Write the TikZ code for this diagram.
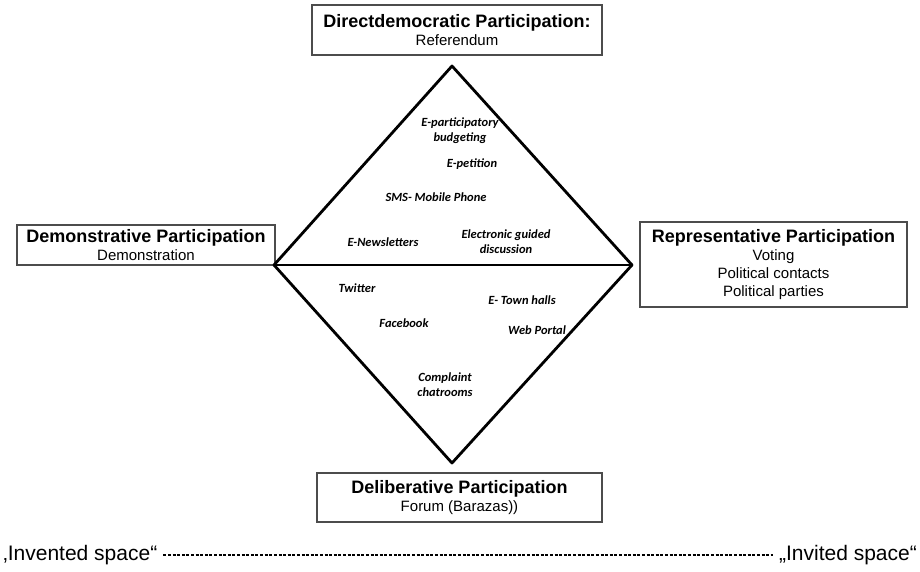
\documentclass[tikz,border=0pt]{standalone}
\usepackage{fontspec}
\setmainfont{Liberation Sans}
\newfontfamily\carlito{Carlito}
\begin{document}
\begin{tikzpicture}[x=1pt,y=-1pt,
  partbox/.style={draw=black!70,line width=1.3pt,align=center,inner sep=0pt,
    font=\fontsize{15}{18}\selectfont},
  dia/.style={line width=2.8pt,line join=round,line cap=round},
  item/.style={font=\carlito\bfseries\itshape\fontsize{12.5}{15}\selectfont,align=center,inner sep=0pt},
  endlbl/.style={font=\fontsize{21}{23}\selectfont,inner sep=0pt}]
\useasboundingbox (0,0) rectangle (920,571);
% boxes
\node[partbox,minimum width=290pt,minimum height=50pt] (top) at (457,30)
  {{\bfseries\fontsize{18}{18}\selectfont Directdemocratic Participation:}\\Referendum};
\node[partbox,minimum width=258pt,minimum height=40pt] (left) at (146,245)
  {{\bfseries\fontsize{18}{18}\selectfont Demonstrative Participation}\\Demonstration};
\node[partbox,minimum width=267pt,minimum height=85pt] (right) at (773.5,264.5)
  {{\bfseries\fontsize{18}{18}\selectfont Representative Participation}\\Voting\\Political contacts\\Political parties};
\node[partbox,minimum width=285pt,minimum height=49pt] (bottom) at (459.5,497.5)
  {{\bfseries\fontsize{18}{18}\selectfont Deliberative Participation}\\Forum (Barazas))};
% diamond
\coordinate (dT) at (452,66);
\coordinate (dL) at (274,265);
\coordinate (dR) at (632,265);
\coordinate (dB) at (452,463);
\draw[dia] (dT) -- (dR) -- (dB) -- (dL) -- cycle;
\draw[dia] (dL) -- (dR);
% items
\node[item] (i1) at (460,131) {E-participatory\\budgeting};
\node[item] (i2) at (472,164) {E-petition};
\node[item] (i3) at (436,197) {SMS- Mobile Phone};
\node[item] (i4) at (383,242) {E-Newsletters};
\node[item] (i5) at (506,242) {Electronic guided\\discussion};
\node[item] (i6) at (357,288) {Twitter};
\node[item] (i7) at (522,300) {E- Town halls};
\node[item] (i8) at (404,323) {Facebook};
\node[item] (i9) at (537,330) {Web Portal};
\node[item] (i10) at (445,385) {Complaint\\chatrooms};
% bottom scale
\node[endlbl,anchor=west] (inv) at (3,555) {‚Invented space“};
\node[endlbl,anchor=east] (invi) at (917,555) {„Invited space“};
\draw[line width=1.4pt,dash pattern=on 3pt off 1.6pt] ([xshift=6pt]inv.east) -- ([xshift=-6pt]invi.west);
\end{tikzpicture}
\end{document}
